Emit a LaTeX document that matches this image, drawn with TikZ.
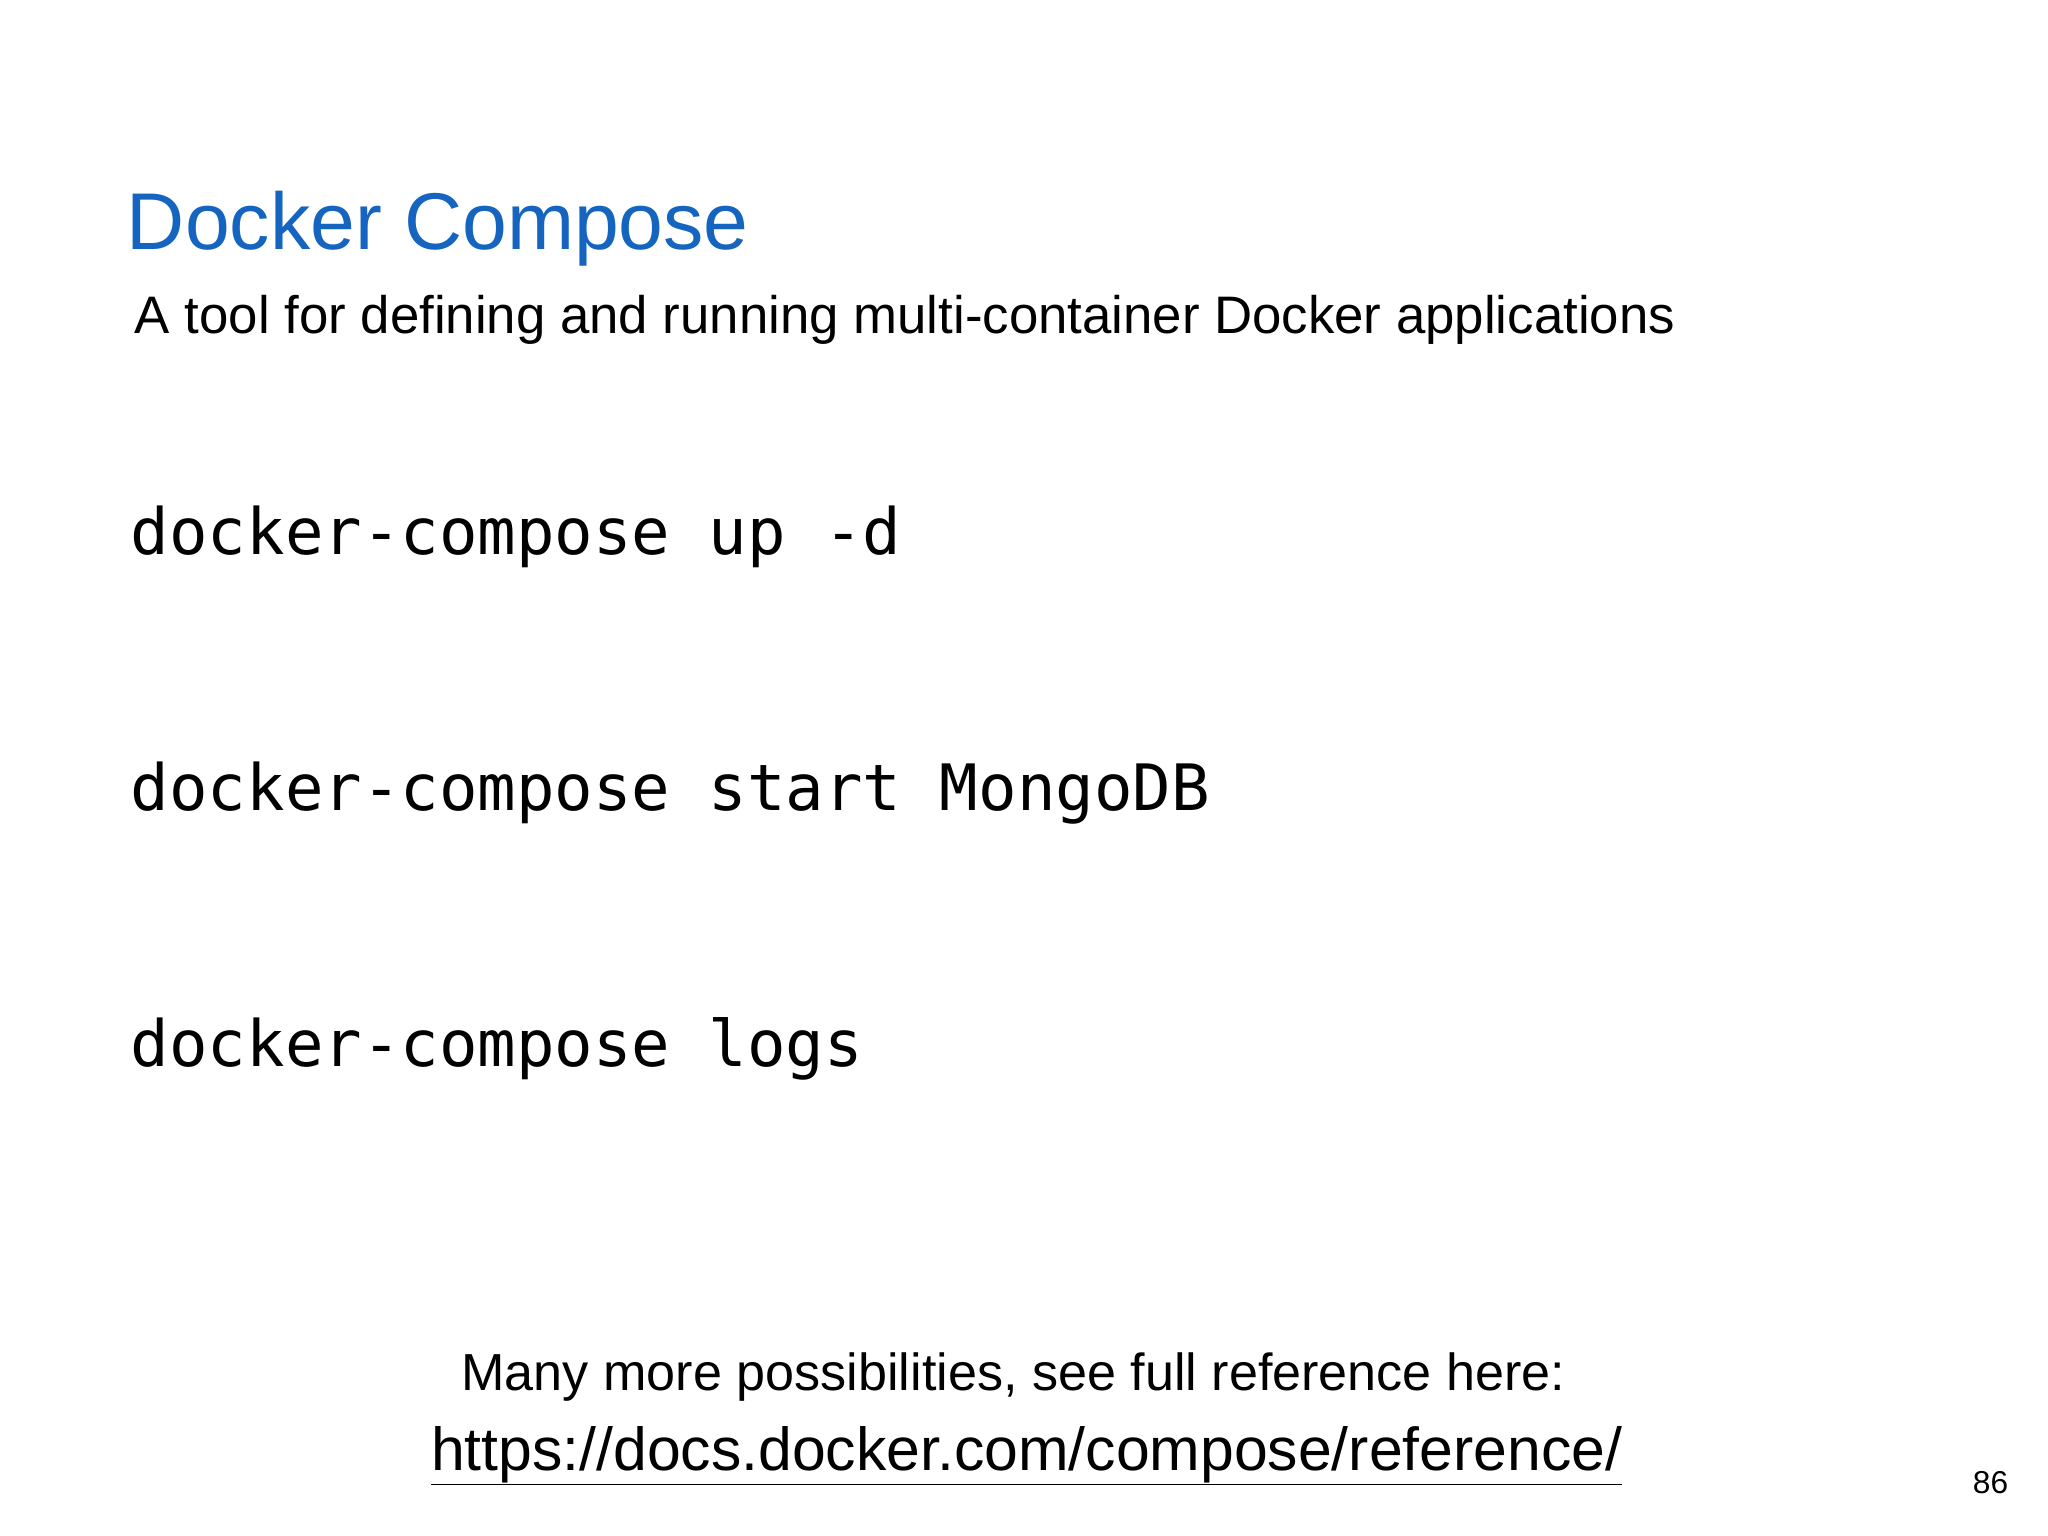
\documentclass[tikz,border=0pt]{standalone}
\usepackage{fontspec}
\setmainfont{Liberation Sans}
\setmonofont{DejaVu Sans Mono}
\definecolor{titleblue}{RGB}{21,101,192}
\begin{document}
\begin{tikzpicture}[x=1pt,y=-1pt,
  txt/.style={inner sep=0pt,anchor=base west},
  cmd/.style={txt,font=\fontsize{48.5}{50}\selectfont\ttfamily}]
\useasboundingbox[fill=white] (0,0) rectangle (1552,1164);
\node[txt,text=titleblue,font=\fontsize{61}{66}\selectfont] (title) at (96,189) {Docker Compose};
\node[txt,font=\fontsize{40}{44}\selectfont] (sub) at (102,253) {A tool for defining and running multi-container Docker applications};
\node[cmd] (c1) at (99,420) {docker-compose up -d};
\node[cmd] (c2) at (99,614) {docker-compose start MongoDB};
\node[cmd] (c3) at (99,808) {docker-compose logs};
\node[txt,anchor=base,font=\fontsize{39.5}{44}\selectfont] (more) at (768,1054) {Many more possibilities, see full reference here:};
\node[txt,anchor=base,font=\fontsize{46}{50}\selectfont] (url) at (778,1114) {\underline{https://docs.docker.com/compose/reference/}};
\node[txt,anchor=base east,font=\fontsize{24}{26}\selectfont] (pg) at (1522,1132) {86};
\end{tikzpicture}
\end{document}
